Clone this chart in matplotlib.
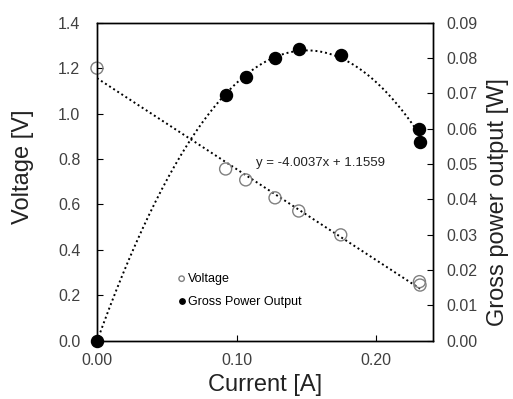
import matplotlib
matplotlib.use('Agg')
import matplotlib.pyplot as plt
import numpy as np

plt.rcParams['font.family'] = ['Liberation Sans', 'DejaVu Sans']

TICK_COLOR = '#404040'

# data
current = [0.0, 0.0922, 0.1066, 0.1276, 0.1446, 0.1747, 0.2311, 0.2315]
voltage = [1.200, 0.756, 0.708, 0.629, 0.571, 0.466, 0.260, 0.245]
power = [0.0, 0.0695, 0.0747, 0.0800, 0.0825, 0.0809, 0.0599, 0.0563]
slope, intercept = -4.0037, 1.1559
eq_text = 'y = -4.0037x + 1.1559'

fig = plt.figure(figsize=(5.13, 3.99), dpi=100)
ax = fig.add_axes([0.189, 0.1461, 0.6545, 0.797])
ax2 = ax.twinx()

# trendlines
xs = np.linspace(0, max(current), 200)
ax.plot(xs, slope * xs + intercept, color='black', ls=(0, (1, 1.5)), lw=1.4, zorder=2)
coef = np.polyfit(current, power, 2)
ax2.plot(xs, np.polyval(coef, xs), color='black', ls=(0, (1, 1.5)), lw=1.4, zorder=2)

ax.scatter(current, voltage, s=75, facecolors='none', edgecolors='#808080',
           linewidths=1.0, zorder=3, label='Voltage', clip_on=False)
ax2.scatter(current, power, s=75, color='black', zorder=3,
            label='Gross Power Output', clip_on=False)

ax.set_xlim(0, 0.2406)
ax.set_ylim(0, 1.4)
ax2.set_ylim(0, 0.09)
ax.set_xticks([0, 0.1, 0.2])
ax.set_xticklabels(['0.00', '0.10', '0.20'])
ax.set_yticks(np.arange(0, 1.41, 0.2))
ax.set_yticklabels(['%.1f' % v for v in np.arange(0, 1.41, 0.2)])
ax2.set_yticks(np.arange(0, 0.091, 0.01))
ax2.set_yticklabels(['%.2f' % v for v in np.arange(0, 0.091, 0.01)])

ax.tick_params(axis='x', direction='in', length=4, pad=9, labelsize=11.5,
               labelcolor=TICK_COLOR)
ax.tick_params(axis='y', direction='in', length=4, pad=12, labelsize=11.5,
               labelcolor=TICK_COLOR)
ax2.tick_params(axis='y', direction='in', length=4, pad=10, labelsize=11.5,
                labelcolor=TICK_COLOR)
for a in (ax, ax2):
    for s in a.spines.values():
        s.set_linewidth(1.0)
        s.set_color('black')

ax.set_xlabel('Current [A]', fontsize=17, color='#222222')
ax.set_ylabel('Voltage [V]', fontsize=17, color='#222222')
ax2.set_ylabel('Gross power output [W]', fontsize=17, color='#222222', rotation=90)
ax.xaxis.set_label_coords(0.5, -0.105)
ax.yaxis.set_label_coords(-0.188, 0.548)
ax2.yaxis.set_label_coords(1.162, 0.436)

ax.text(0.475, 0.56, eq_text, transform=ax.transAxes, fontsize=9.5,
        color='#222222', va='center', ha='left')

h1, l1 = ax.get_legend_handles_labels()
h2, l2 = ax2.get_legend_handles_labels()
ax2.legend(h1 + h2, l1 + l2, loc='upper left', bbox_to_anchor=(0.241, 0.213),
           frameon=False, fontsize=9, markerscale=0.45, handlelength=0.6,
           handletextpad=0.2, borderpad=0, borderaxespad=0, labelspacing=0.85)

fig.savefig('out.png', dpi=100)
